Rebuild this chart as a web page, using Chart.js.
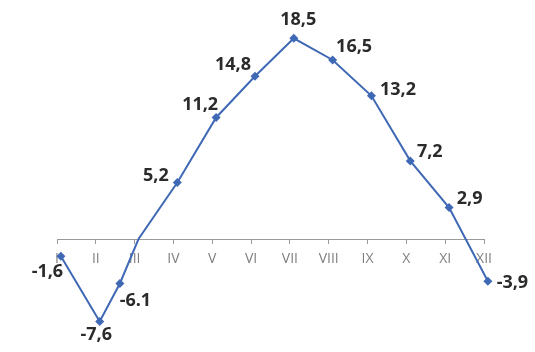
<!DOCTYPE html>
<html>
<head>
<meta charset="utf-8">
<script src="https://cdn.jsdelivr.net/npm/chart.js@4/dist/chart.umd.min.js"></script>
<style>
  html, body { margin: 0; padding: 0; background: #ffffff; }
  #wrap { width: 535px; height: 352px; position: relative; }
</style>
</head>
<body>
<div id="wrap"><canvas id="c" width="535" height="352"></canvas></div>
<script>
// ---- data ----
const months = ['I', 'II', 'III', 'IV', 'V', 'VI', 'VII', 'VIII', 'IX', 'X', 'XI', 'XII'];
const pointX = [1, 2, 2.52, 3, 4, 5, 6, 7, 8, 9, 10, 11, 12];
const temps = [-1.6, -7.6, -4.1, 0, 5.2, 11.2, 15.0, 18.5, 16.5, 13.2, 7.2, 2.9, -3.9];
const valueLabels = ['-1,6', '-7,6', '-6.1', '', '5,2', '11,2', '14,8', '18,5', '16,5', '13,2', '7,2', '2,9', '-3,9'];

// ---- layout / style ----
const markerRadius = [4.5, 4.5, 4.5, 0, 4.5, 4.5, 4.5, 4.5, 4.5, 4.5, 4.5, 4.5, 4.5];
const labelOffsets = [[-13.5, 16], [-3.5, 13], [15.5, 17], [0, 0], [-21.5, -7], [-16, -13], [-22, -11],
                      [4.5, -18], [21.5, -13], [26.5, -6], [19.5, -9.5], [20.5, -9], [24.5, 2]];
const tickShift = 0.1;
const lineColor = '#3F68B5';

const points = pointX.map((x, i) => ({ x: x, y: temps[i] }));

const labelPlugin = {
  id: 'valueLabels',
  afterDatasetsDraw(chart) {
    const ctx = chart.ctx;
    const meta = chart.getDatasetMeta(0);
    ctx.save();
    ctx.font = 'bold 18px "Open Sans"';
    ctx.fillStyle = '#2b2b2b';
    ctx.textAlign = 'center';
    ctx.textBaseline = 'middle';
    meta.data.forEach((el, i) => {
      const t = valueLabels[i];
      if (!t) return;
      const o = labelOffsets[i];
      ctx.fillText(t, el.x + o[0], el.y + o[1]);
    });
    ctx.restore();
  }
};

new Chart(document.getElementById('c'), {
  type: 'line',
  data: {
    datasets: [{
      data: points,
      borderColor: lineColor,
      backgroundColor: lineColor,
      borderWidth: 2,
      pointStyle: 'rectRot',
      pointRadius: markerRadius,
      pointHoverRadius: markerRadius,
      pointBorderWidth: 0,
      tension: 0,
      clip: false
    }]
  },
  options: {
    responsive: false,
    animation: false,
    devicePixelRatio: 1,
    layout: { padding: { left: 57, right: 51, top: 22, bottom: 1 } },
    plugins: { legend: { display: false }, tooltip: { enabled: false } },
    scales: {
      x: {
        type: 'linear',
        position: { y: 0 },
        min: 1 - tickShift,
        max: 12 - tickShift,
        afterBuildTicks: (scale) => {
          scale.ticks = months.map((m, i) => ({ value: i + 1 - tickShift }));
        },
        ticks: {
          autoSkip: false,
          maxRotation: 0,
          padding: 8,
          color: '#7f7f7f',
          font: { family: '"Open Sans"', size: 14 },
          callback: (v, i) => months[i]
        },
        grid: {
          drawOnChartArea: false,
          drawTicks: true,
          tickLength: 4,
          color: '#9a9a9a'
        },
        border: { display: true, color: '#9a9a9a', width: 1 }
      },
      y: {
        display: false,
        min: -10,
        max: 20
      }
    }
  },
  plugins: [labelPlugin]
});
</script>
</body>
</html>
